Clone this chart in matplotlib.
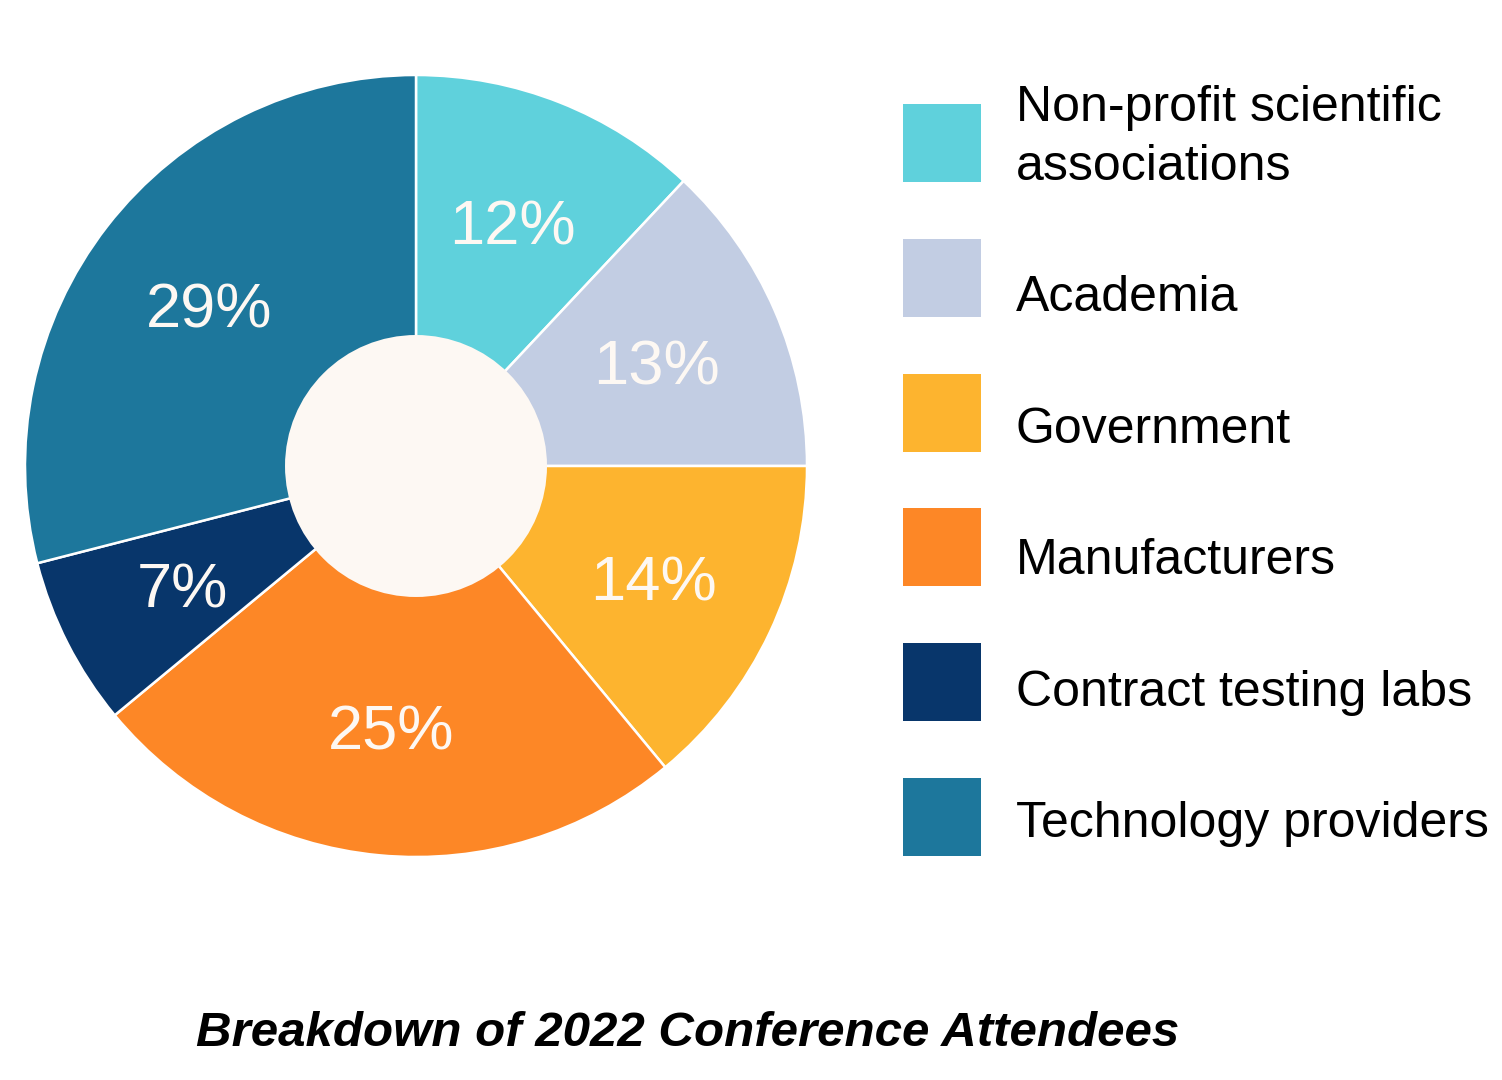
import matplotlib
matplotlib.use("Agg")
import matplotlib.pyplot as plt
from matplotlib.patches import Rectangle, Circle

plt.rcParams['font.family'] = ['Liberation Sans', 'DejaVu Sans']

categories = ["Non-profit scientific\nassociations", "Academia", "Government",
              "Manufacturers", "Contract testing labs", "Technology providers"]
shares = [12, 13, 14, 25, 7, 29]
colors = ["#5FD1DC", "#C2CDE3", "#FDB42F", "#FD8726", "#08366B", "#1D779C"]
title = "Breakdown of 2022 Conference Attendees"

W, H = 1502, 1080
fig = plt.figure(figsize=(W / 100, H / 100), dpi=100)
fig.patch.set_facecolor("white")

# pie: centre (416, 466) px, radius 391 px
cx, cy, r = 416, 466, 391
ax = fig.add_axes([(cx - r) / W, (H - cy - r) / H, 2 * r / W, 2 * r / H])
wedges, texts, autotexts = ax.pie(
    shares, colors=colors, startangle=90, counterclock=False,
    autopct=lambda p: "%d%%" % round(p), pctdistance=0.67,
    wedgeprops=dict(edgecolor="white", linewidth=1.8),
    textprops=dict(color="#FDF8F3", fontsize=45.5))
for w in wedges:
    w.set_clip_on(False)
# nudge labels down a little (the digits sit slightly low in the original)
for t in autotexts:
    x, y = t.get_position()
    t.set_position((x, y - 6 / r))
ax.add_patch(Circle((0, 0), 0.335, facecolor="#FDF8F3", edgecolor="none", zorder=5))
ax.set_xlim(-1, 1)
ax.set_ylim(-1, 1)
ax.axis("off")

# legend drawn in pixel coordinates
lax = fig.add_axes([0, 0, 1, 1])
lax.set_xlim(0, W)
lax.set_ylim(H, 0)
lax.axis("off")
for i, (lab, col) in enumerate(zip(categories, colors)):
    top = 104 + 134.8 * i
    lax.add_patch(Rectangle((903, top), 78, 78, facecolor=col, edgecolor="none"))
    lax.text(1016, 180 + 131.4 * i, lab, fontsize=36, va="baseline", ha="left",
             color="black", linespacing=1.36)

fig.text(688 / W, 1 - 1046 / H, title, fontsize=35.5, fontweight="bold",
         fontstyle="italic", ha="center", va="baseline", color="black")

fig.savefig("out.png", dpi=100)
